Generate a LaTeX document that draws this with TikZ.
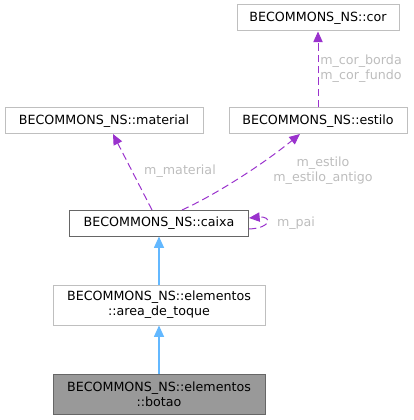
\documentclass[tikz,border=0pt]{standalone}
\usepackage{fontspec}
\setmainfont{DejaVu Sans}
\usetikzlibrary{arrows.meta}
\definecolor{purp}{HTML}{9A32CD}
\definecolor{inh}{HTML}{63B8FF}
\definecolor{lbl}{HTML}{BDBDBD}
\definecolor{boxline}{HTML}{BFBFBF}
\definecolor{darkline}{HTML}{666666}
\definecolor{selfill}{HTML}{999999}
\tikzset{
  cls/.style={draw=boxline, line width=0.75pt, fill=white, font=\fontsize{9.5pt}{11pt}\selectfont, align=center, inner sep=0pt},
  main/.style={cls, draw=darkline},
  sel/.style={cls, draw=darkline, fill=selfill},
  assoc/.style={draw=purp, dashed, dash pattern=on 5.5pt off 3pt, line width=0.75pt, -{Triangle[length=8pt,width=7pt,fill=purp]}},
  inher/.style={draw=inh, line width=0.85pt, -{Triangle[length=8.5pt,width=7.5pt,fill=inh]}},
  elbl/.style={lbl, font=\fontsize{9.5pt}{11pt}\selectfont, align=center, inner sep=0pt},
}
\begin{document}
\begin{tikzpicture}[x=0.75pt,y=-0.75pt]
\useasboundingbox (0,0) rectangle (413,420);
\node[cls, minimum width=162*0.75pt, minimum height=26*0.75pt] (cor) at (318,18) {BECOMMONS\_NS::cor};
\node[cls, minimum width=198*0.75pt, minimum height=26*0.75pt] (material) at (104,121) {BECOMMONS\_NS::material};
\node[cls, minimum width=178*0.75pt, minimum height=26*0.75pt] (estilo) at (318,121) {BECOMMONS\_NS::estilo};
\node[main, minimum width=179*0.75pt, minimum height=26*0.75pt] (caixa) at (159,223) {BECOMMONS\_NS::caixa};
\node[cls, minimum width=212*0.75pt, minimum height=40*0.75pt] (area) at (159,305) {BECOMMONS\_NS::elementos\\::area\_de\_toque};
\node[sel, minimum width=212*0.75pt, minimum height=40*0.75pt] (botao) at (159,394) {BECOMMONS\_NS::elementos\\::botao};

\coordinate (caixaTop1) at (152,210);
\coordinate (caixaTop2) at (182,210);
\coordinate (matBot) at (113,134);
\coordinate (estBot) at (300,134);

\draw[inher] (botao.north) -- (area.south);
\draw[inher] (area.north) -- (caixa.south);
\draw[assoc] (estilo.north) -- (cor.south);
\draw[assoc] (caixaTop1) -- (matBot);
\draw[assoc] (caixaTop2) .. controls (215,195) and (262,165) .. (estBot);
\draw[assoc] ([yshift=-6*0.75pt]caixa.east) .. controls (272,228) and (272,216) .. ([yshift=5*0.75pt]caixa.east);

\node[elbl, anchor=west] (lcor) at (320,69) {m\_cor\_borda\\m\_cor\_fundo};
\node[elbl] (lmat) at (180,171) {m\_material};
\node[elbl] (lest) at (323,171) {m\_estilo\\m\_estilo\_antigo};
\node[elbl] (lpai) at (296,223) {m\_pai};
\end{tikzpicture}
\end{document}
